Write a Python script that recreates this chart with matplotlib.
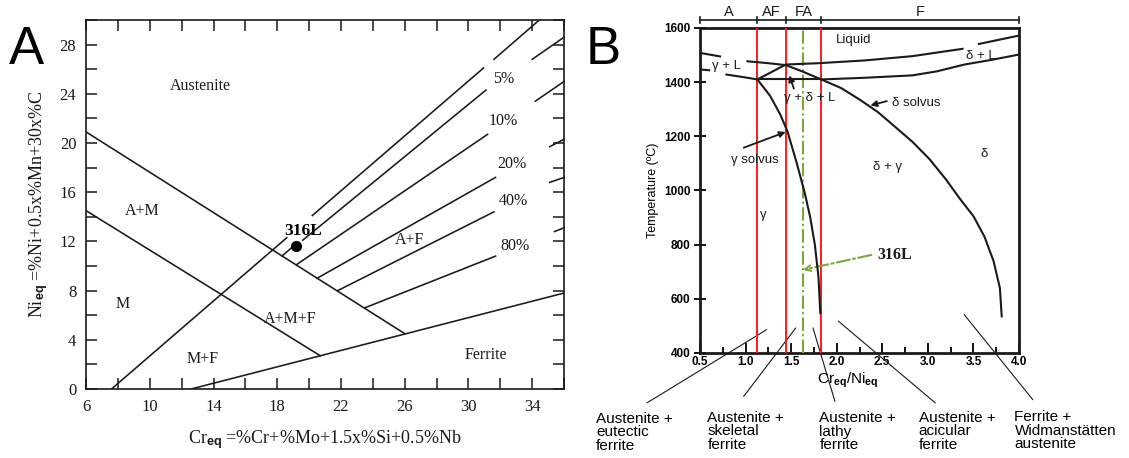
import matplotlib
matplotlib.use("Agg")
import matplotlib.pyplot as plt
from matplotlib.ticker import MultipleLocator

plt.rcParams['mathtext.fontset'] = 'custom'
plt.rcParams['mathtext.rm'] = 'Liberation Serif'
plt.rcParams['mathtext.bf'] = 'Liberation Sans:bold'
plt.rcParams['mathtext.it'] = 'Liberation Serif:italic'

SERIF = ['Liberation Serif', 'DejaVu Serif']
SANS = ['Liberation Sans', 'DejaVu Sans']

# ---------------- Panel A data (Schaeffler diagram) ----------------
A_xlim = (6, 36)
A_ylim = (0, 30)
A_xticks = [6, 10, 14, 18, 22, 26, 30, 34]
A_yticks = [0, 4, 8, 12, 16, 20, 24, 28]

# boundary lines
austenite_line_x = [6.0, 26.0]
austenite_line_y = [20.9, 4.5]
martensite_line_x = [6.0, 20.7]
martensite_line_y = [14.5, 2.7]
ferrite_line_x = [12.6, 36.0]
ferrite_line_y = [0.0, 7.8]
# main diagonal (0 % ferrite) drawn in pieces
diag_segments = [
    ([7.6, 18.6], [0.0, 12.3]),
    ([20.2, 30.95], [14.1, 26.1]),
    ([31.6, 34.45], [26.8, 30.0]),
]
# iso-ferrite lines: start on austenite line, end at label
fan_segments = [
    ([18.3, 19.0], [10.8, 11.6]),
    ([19.6, 31.1], [12.1, 24.3]),
    ([19.2, 31.2], [10.1, 20.7]),
    ([20.5, 31.7], [9.0, 17.2]),
    ([21.8, 31.6], [8.0, 14.4]),
    ([23.5, 31.7], [6.6, 10.8]),
]
fan_labels = ['5%', '10%', '20%', '40%', '80%']
fan_label_x = [32.2, 32.2, 32.7, 32.8, 32.9]
fan_label_y = [25.2, 21.8, 18.3, 15.3, 11.6]
# short lines along the right border
edge_segments = [
    ([34.0, 36.0], [26.8, 28.6]),
    ([34.2, 36.0], [23.4, 25.0]),
    ([35.1, 36.0], [19.7, 20.3]),
    ([35.1, 36.0], [16.8, 17.2]),
    ([35.4, 36.0], [12.8, 13.1]),
]
region_labels = ['Austenite', 'A+M', 'M', 'A+M+F', 'M+F', 'Ferrite', 'A+F']
region_x = [13.2, 9.5, 8.3, 18.8, 13.3, 31.1, 26.3]
region_y = [24.6, 14.5, 6.9, 5.7, 2.4, 2.8, 12.1]
point_316L = (19.2, 11.6)

# ---------------- Panel B data (pseudo-binary diagram) ----------------
B_xlim = (0.5, 4.0)
B_ylim = (400, 1600)
B_xticks = [0.5, 1.0, 1.5, 2.0, 2.5, 3.0, 3.5, 4.0]
B_yticks = [400, 600, 800, 1000, 1200, 1400, 1600]

gamma_liq1_x = [0.5, 0.72]
gamma_liq1_y = [1508, 1495]
gamma_liq2_x = [1.02, 1.25, 1.44, 1.62, 1.83]
gamma_liq2_y = [1477, 1470, 1463, 1440, 1410]
gamma_sol1_x = [0.5, 0.6]
gamma_sol1_y = [1447, 1444]
gamma_sol2_x = [0.79, 0.95, 1.13]
gamma_sol2_y = [1428, 1420, 1410]
eutectic_x = [1.13, 1.83]
eutectic_y = [1410, 1410]
delta_liq_x = [1.13, 1.30, 1.44, 1.8, 2.3, 2.83, 3.38]
delta_liq_y = [1410, 1440, 1465, 1470, 1480, 1496, 1523]
delta_liq2_x = [3.56, 4.0]
delta_liq2_y = [1541, 1572]
delta_sol_x = [1.83, 2.3, 2.83, 3.1, 3.40, 3.71, 4.0]
delta_sol_y = [1410, 1416, 1425, 1440, 1465, 1483, 1502]
gamma_solvus_x = [1.13, 1.27, 1.38, 1.46, 1.56, 1.65, 1.71, 1.76, 1.80, 1.82]
gamma_solvus_y = [1410, 1349, 1281, 1218, 1103, 990, 900, 800, 680, 547]
delta_solvus_x = [1.83, 2.05, 2.25, 2.45, 2.63, 2.83, 3.02, 3.20, 3.35, 3.50, 3.62, 3.72, 3.79, 3.81]
delta_solvus_y = [1410, 1378, 1336, 1290, 1238, 1180, 1115, 1040, 970, 905, 830, 740, 640, 535]

red_lines_x = [1.13, 1.44, 1.83]
green_x = 1.63
mode_bounds = [0.5, 1.13, 1.44, 1.83, 4.0]
mode_labels = ['A', 'AF', 'FA', 'F']

B_labels = ['Liquid', 'δ + L', 'γ + L', 'γ + δ + L', 'γ solvus', 'δ solvus', 'δ + γ', 'δ', 'γ']
B_label_x = [2.19, 3.58, 0.79, 1.70, 1.10, 2.87, 2.56, 3.62, 1.19]
B_label_y = [1557, 1496, 1459, 1342, 1113, 1324, 1085, 1134, 909]

morph_labels = ['Austenite +\neutectic\nferrite', 'Austenite +\nskeletal\nferrite',
                'Austenite +\nlathy\nferrite', 'Austenite +\nacicular\nferrite',
                'Ferrite +\nWidmanstätten\naustenite']
morph_label_x = [-0.64, 0.58, 1.81, 2.90, 3.95]
morph_label_y = [182, 186, 184, 186, 188]
leader_start_x = [1.23, 1.55, 1.74, 2.02, 3.40]
leader_start_y = [486, 492, 492, 517, 541]
leader_end_x = [-0.08, 0.98, 1.98, 3.08, 4.15]
leader_end_y = [216, 240, 222, 216, 228]

# ---------------- Figure ----------------
fig = plt.figure(figsize=(11.29, 4.58), dpi=100)

# ===== Panel A =====
ax1 = fig.add_axes([0.0762, 0.1507, 0.4234, 0.8057])
lw = 1.15
kc = '#1a1a1a'
ax1.plot(austenite_line_x, austenite_line_y, color=kc, lw=lw)
ax1.plot(martensite_line_x, martensite_line_y, color=kc, lw=lw)
ax1.plot(ferrite_line_x, ferrite_line_y, color=kc, lw=lw)
for xs, ys in diag_segments + fan_segments:
    ax1.plot(xs, ys, color=kc, lw=lw)
for xs, ys in edge_segments:
    ax1.plot(xs, ys, color=kc, lw=lw, clip_on=False)
for t, x, y in zip(fan_labels, fan_label_x, fan_label_y):
    ax1.text(x, y, t, fontsize=11.5, family=SERIF, ha='center', va='center', color=kc)
for t, x, y in zip(region_labels, region_x, region_y):
    ax1.text(x, y, t, fontsize=11.5, family=SERIF, ha='center', va='center', color=kc)
ax1.plot([point_316L[0]], [point_316L[1]], 'o', color='k', ms=7)
ax1.text(point_316L[0] + 0.45, point_316L[1] + 1.25, '316L', fontsize=12.5, family=SERIF,
         fontweight='bold', ha='center', va='center')

ax1.set_xlim(*A_xlim)
ax1.set_ylim(*A_ylim)
ax1.set_xticks(A_xticks)
ax1.set_yticks(A_yticks)
ax1.xaxis.set_minor_locator(MultipleLocator(2))
ax1.yaxis.set_minor_locator(MultipleLocator(2))
ax1.tick_params(which='both', direction='in', top=True, right=True, length=8, width=1.1,
                color=kc)
ax1.tick_params(axis='x', pad=7)
ax1.tick_params(axis='y', pad=7)
for lab in ax1.get_xticklabels() + ax1.get_yticklabels():
    lab.set_family(SERIF)
    lab.set_fontsize(12)
    lab.set_color(kc)
for s in ax1.spines.values():
    s.set_linewidth(1.2)
    s.set_color(kc)
ax1.set_xlabel(r'Cr$_{\mathbf{eq}}$ =%Cr+%Mo+1.5x%Si+0.5%Nb', family=SERIF, fontsize=13,
               labelpad=10, color=kc)
ax1.set_ylabel(r'Ni$_{\mathbf{eq}}$ =%Ni+0.5x%Mn+30x%C', family=SERIF, fontsize=13,
               labelpad=7, color=kc)

fig.text(0.008, 0.945, 'A', fontsize=38, family=SANS, va='top', ha='left')
fig.text(0.519, 0.945, 'B', fontsize=38, family=SANS, va='top', ha='left')

# ===== Panel B =====
ax2 = fig.add_axes([0.620, 0.2293, 0.2826, 0.7096])
bl = 1.5
for x in red_lines_x:
    ax2.plot([x, x], B_ylim, color='#ff1a1a', lw=1.4, zorder=3)
ax2.plot([green_x, green_x], B_ylim, color='#77a83a', lw=1.5, ls='-.', zorder=3)

for xs, ys in [(gamma_liq1_x, gamma_liq1_y), (gamma_liq2_x, gamma_liq2_y),
               (gamma_sol1_x, gamma_sol1_y), (gamma_sol2_x, gamma_sol2_y),
               (eutectic_x, eutectic_y), (delta_liq_x, delta_liq_y),
               (delta_liq2_x, delta_liq2_y), (delta_sol_x, delta_sol_y),
               (gamma_solvus_x, gamma_solvus_y), (delta_solvus_x, delta_solvus_y)]:
    ax2.plot(xs, ys, color=kc, lw=bl, zorder=4)

for t, x, y in zip(B_labels, B_label_x, B_label_y):
    ax2.text(x, y, t, fontsize=9.5, family=SANS, ha='center', va='center', color=kc, zorder=5)

arrow_kw = dict(arrowstyle='-|>', color=kc, lw=1.3, mutation_scale=9, shrinkA=0, shrinkB=0)
ax2.annotate('', xy=(1.44, 1216), xytext=(0.98, 1158), arrowprops=arrow_kw)
ax2.annotate('', xy=(2.37, 1314), xytext=(2.55, 1330), arrowprops=arrow_kw)
ax2.annotate('', xy=(1.48, 1425), xytext=(1.53, 1376), arrowprops=arrow_kw)

# 316L pointer
ax2.annotate('', xy=(green_x, 707), xytext=(2.38, 762),
             arrowprops=dict(arrowstyle='->', color='#77a83a', lw=1.5, ls='-.',
                             shrinkA=0, shrinkB=0, mutation_scale=10))
ax2.text(2.45, 762, '316L', fontsize=11.5, family=SERIF, fontweight='bold', ha='left',
         va='center', color=kc)

# mode bar above the axes
ax2.plot([mode_bounds[0], mode_bounds[-1]], [1630, 1630], color=kc, lw=1.2, clip_on=False)
for xb in mode_bounds:
    ax2.plot([xb, xb], [1618, 1642], color=kc, lw=1.2, clip_on=False)
for i, t in enumerate(mode_labels):
    ax2.text((mode_bounds[i] + mode_bounds[i + 1]) / 2, 1660, t, fontsize=10.5, family=SANS,
             ha='center', va='center', color=kc)

# morphology leaders and labels
for xs, ys, xe, ye in zip(leader_start_x, leader_start_y, leader_end_x, leader_end_y):
    ax2.plot([xs, xe], [ys, ye], color=kc, lw=0.8, clip_on=False)
for t, x, y in zip(morph_labels, morph_label_x, morph_label_y):
    ax2.text(x, y, t, fontsize=11, family=SANS, ha='left', va='top', color='k',
             linespacing=0.95)

ax2.set_xlim(*B_xlim)
ax2.set_ylim(*B_ylim)
ax2.set_xticks(B_xticks)
ax2.set_yticks(B_yticks)
ax2.xaxis.set_minor_locator(MultipleLocator(0.25))
ax2.tick_params(axis='x', which='major', direction='in', length=7, width=1.3, pad=2)
ax2.tick_params(axis='x', which='minor', direction='in', length=4, width=1.3)
ax2.tick_params(axis='y', which='major', direction='inout', length=8, width=1.3, pad=3)
for lab in ax2.get_xticklabels() + ax2.get_yticklabels():
    lab.set_family(SANS)
    lab.set_fontsize(8.5)
    lab.set_fontweight('bold')
for s in ax2.spines.values():
    s.set_linewidth(2.0)
    s.set_color(kc)
ax2.text(2.12, 300, r'Cr$_{\mathbf{eq}}$/Ni$_{\mathbf{eq}}$', fontsize=11, family=SANS,
         ha='center', va='center')
fig.text(0.578, 0.585, 'Temperature (ºC)', rotation=90, fontsize=9, family=SANS,
         ha='center', va='center')

fig.savefig('out.png', dpi=100)
